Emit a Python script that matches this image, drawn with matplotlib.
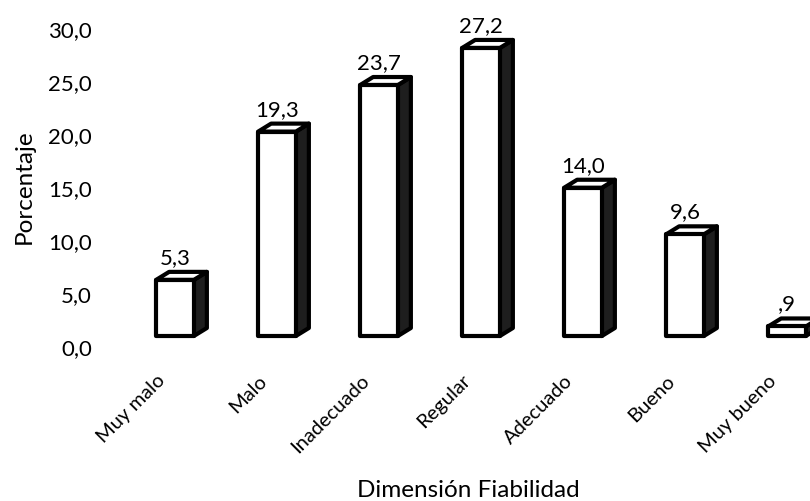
import matplotlib
matplotlib.use("Agg")
import matplotlib.pyplot as plt
from matplotlib.patches import Polygon
from matplotlib.transforms import IdentityTransform, ScaledTranslation, blended_transform_factory

# Data
categories = ["Muy malo", "Malo", "Inadecuado", "Regular", "Adecuado", "Bueno", "Muy bueno"]
values = [5.3, 19.3, 23.7, 27.2, 14.0, 9.6, 0.9]
value_labels = ["5,3", "19,3", "23,7", "27,2", "14,0", "9,6", ",9"]
y_ticks = [0, 5, 10, 15, 20, 25, 30]
y_tick_labels = ["0,0", "5,0", "10,0", "15,0", "20,0", "25,0", "30,0"]

FONT = "Lato"
FS_TICK = 16
FS_CAT = 14.5
FS_TITLE = 17.5
plt.rcParams["font.family"] = [FONT, "DejaVu Sans"]

W, H, DPI = 810, 502, 100
fig = plt.figure(figsize=(W / DPI, H / DPI), dpi=DPI)
fig.patch.set_facecolor("white")

# axes placed in pixel terms
left_px, right_px, base_px, top_px = 124, 810, 337, 19.3
ax = fig.add_axes([left_px / W, (H - base_px) / H, (right_px - left_px) / W, (base_px - top_px) / H])
ax.set_xlim(-0.5, 6.2255)
ax.set_ylim(0, 30)
ax.axis("off")

bar_w = 0.37          # front face width in data units
dx, dy = 13, 8        # oblique depth in pixels
side_color = "#1e1e1e"
lw = 3.0

for i, v in enumerate(values):
    (x0, yb), (x1, yt) = ax.transData.transform([(i - bar_w / 2, 0), (i + bar_w / 2, v)])
    ident = IdentityTransform()
    side = Polygon([(x1, yb), (x1, yt), (x1 + dx, yt + dy), (x1 + dx, yb + dy)],
                   closed=True, facecolor=side_color, edgecolor="black", lw=lw,
                   joinstyle="round", transform=ident, clip_on=False)
    top = Polygon([(x0, yt), (x0 + dx, yt + dy), (x1 + dx, yt + dy), (x1, yt)],
                  closed=True, facecolor="white", edgecolor="black", lw=lw,
                  joinstyle="round", transform=ident, clip_on=False)
    front = Polygon([(x0, yb), (x0, yt), (x1, yt), (x1, yb)],
                    closed=True, facecolor="white", edgecolor="black", lw=lw,
                    joinstyle="round", transform=ident, clip_on=False)
    for p in (side, top, front):
        fig.patches.append(p)
        p.set_figure(fig)

    # value label above the bar
    ax.annotate(value_labels[i], xy=(i, v), xytext=(0, 17), textcoords="offset pixels",
                ha="center", va="baseline", fontsize=FS_TICK, color="black",
                annotation_clip=False)

    # category label, rotated
    ax.annotate(categories[i], xy=(i, 0), xytext=(-7, -35), textcoords="offset pixels",
                ha="right", va="top", rotation=45, fontsize=FS_CAT, color="black",
                annotation_clip=False)

# y tick labels
tick_trans = blended_transform_factory(fig.transFigure, ax.transData) + \
    ScaledTranslation(0, -18 / DPI, fig.dpi_scale_trans)
for t, lab in zip(y_ticks, y_tick_labels):
    ax.text(92 / W, t, lab, transform=tick_trans, ha="right", va="baseline",
            fontsize=FS_TICK, color="black", clip_on=False)

fig.text(24 / W, 1 - 187 / H, "Porcentaje", rotation=90, ha="center", va="center",
         fontsize=FS_TITLE, color="black")
fig.text(468 / W, 1 - 497 / H, "Dimensión Fiabilidad", ha="center", va="baseline",
         fontsize=FS_TITLE, color="black")

fig.savefig("out.png", dpi=DPI, facecolor="white")
